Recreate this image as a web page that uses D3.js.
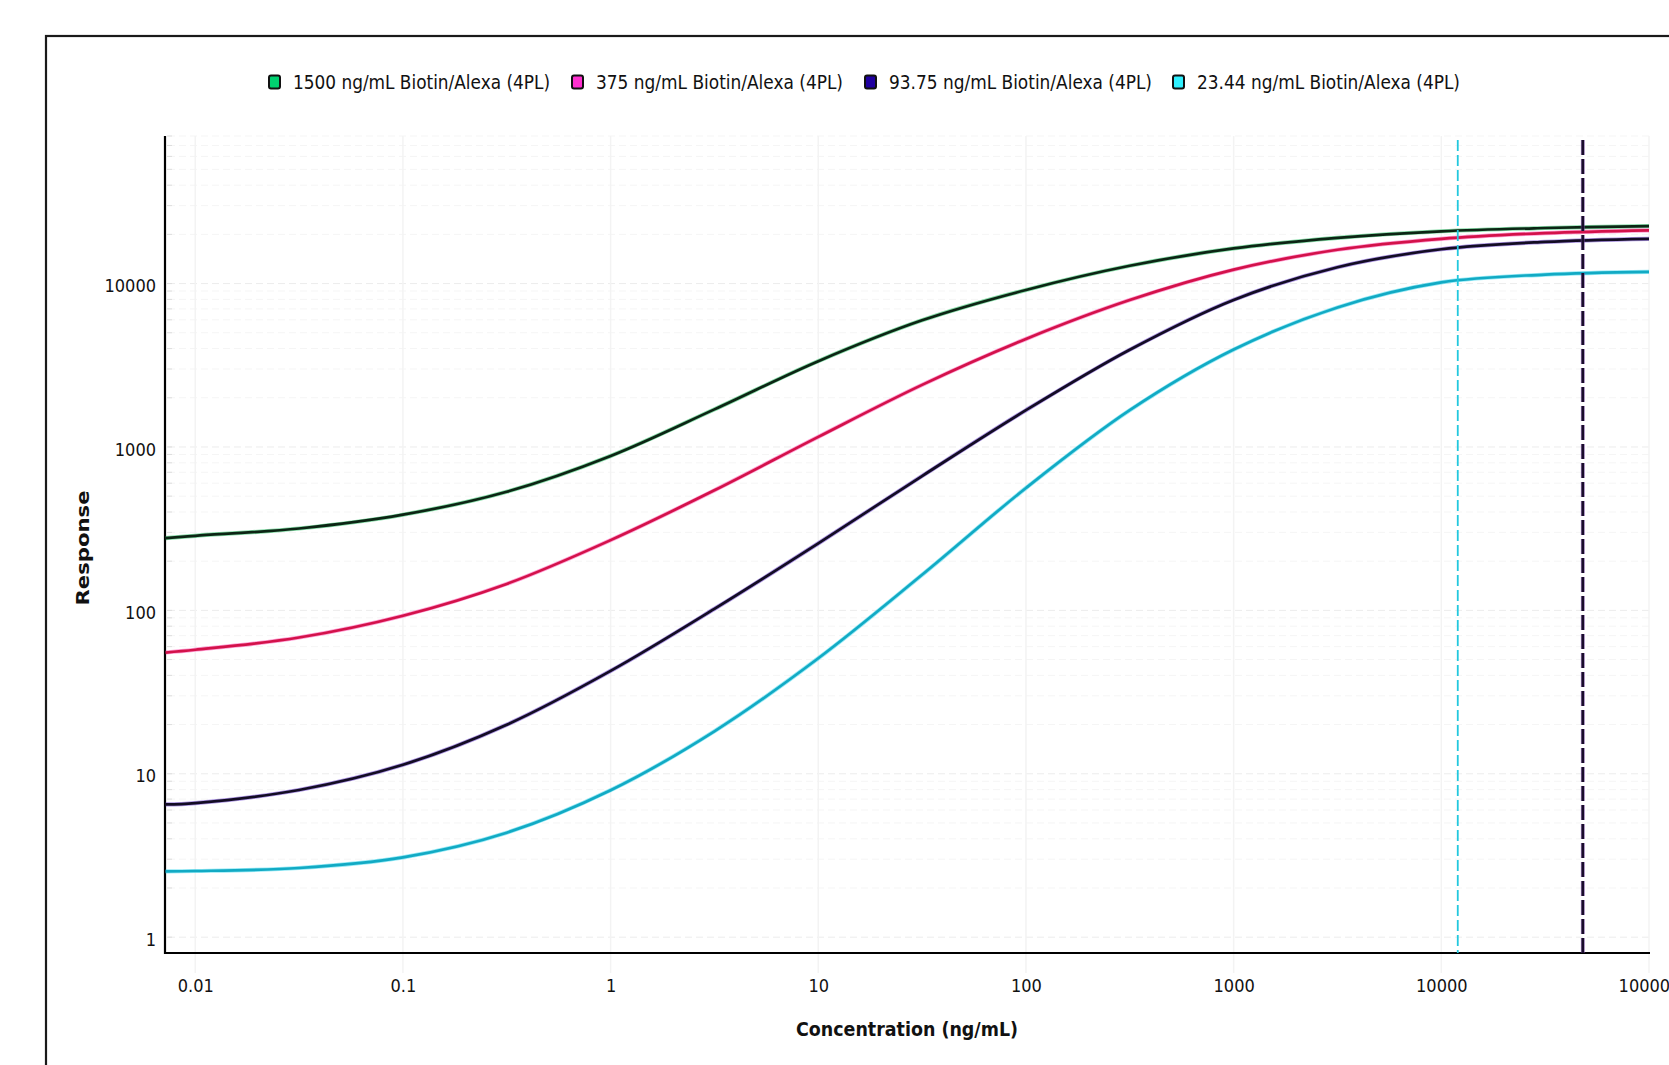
<!DOCTYPE html>
<html><head><meta charset="utf-8">
<script src="https://cdn.jsdelivr.net/npm/d3@7"></script>
<style>
body{margin:0;background:#fff;overflow:hidden}
svg{display:block}
text{font-family:"DejaVu Sans Condensed","DejaVu Sans",sans-serif;font-stretch:condensed;fill:#111}
</style>
</head><body>
<svg id="chart" width="1669" height="1065"></svg>
<script>
// ---- data ----
const seriesNames = ["1500 ng/mL Biotin/Alexa (4PL)", "375 ng/mL Biotin/Alexa (4PL)", "93.75 ng/mL Biotin/Alexa (4PL)", "23.44 ng/mL Biotin/Alexa (4PL)"];
const concentrations = [0.0072, 0.01, 0.0316, 0.1, 0.316, 1, 3.16, 10, 31.6, 100, 316, 1000, 3162, 10000, 31623, 100000];
const resp1500 = [277, 286, 317, 385, 532, 881, 1698, 3350, 5957, 9141, 12853, 16406, 19055, 20893, 21878, 22491];
const resp375  = [55.2, 57.4, 68.2, 92.7, 145.2, 269, 543, 1153, 2399, 4581, 7925, 12162, 16106, 18793, 20370, 21184];
const resp9375 = [6.49, 6.62, 7.96, 11.35, 19.95, 42.6, 102.1, 257, 664, 1679, 3936, 7943, 12589, 16218, 17989, 18793];
const resp2344 = [2.53, 2.54, 2.65, 3.08, 4.36, 7.93, 18.2, 50.9, 165, 561, 1679, 3945, 7145, 10162, 11350, 11803];
const xTickValues = [0.01, 0.1, 1, 10, 100, 1000, 10000, 100000];
const xTickLabels = ["0.01", "0.1", "1", "10", "100", "1000", "10000", "100000"];
const yTickValues = [1, 10, 100, 1000, 10000];
const yTickLabels = ["1", "10", "100", "1000", "10000"];
const limitConcs = [12000, 48000];
const limitSeriesIndex = [3, 2];

// ---- styles ----
const legendColors = ["#00d070", "#ff30d0", "#2000a0", "#30f0ff"];
const lineColors = ["#0c2514", "#d3124a", "#130c24", "#12aac4"];
const fringeColors = ["#22c060", "#ff4fb0", "#6a40d0", "#40d8ee"];

const svg = d3.select("#chart");
const pLeft = 165, pRight = 1649, pTop = 136, pBottom = 953;

const x = d3.scaleLog().domain([0.00715, 100000]).range([pLeft, pRight]);
const y = d3.scaleLog().domain([0.8, 80000]).range([pBottom, pTop]);

// outer frame
svg.append("rect").attr("x", 46).attr("y", 36).attr("width", 1700).attr("height", 1100)
  .attr("fill", "none").attr("stroke", "#1a1a1a").attr("stroke-width", 2.2);

// faint gridlines
const g = svg.append("g");
const minorY = [];
for (let e = 0; e <= 4; e++) for (let m = 1; m <= 9; m++) { const v = m * Math.pow(10, e); if (v >= 1 && v <= 80000) minorY.push(v); }
g.selectAll(".hg").data(minorY).enter().append("line")
  .attr("x1", pLeft + 3).attr("x2", pRight)
  .attr("y1", d => y(d)).attr("y2", d => y(d))
  .attr("stroke", d => (Math.abs(Math.log10(d) % 1) < 1e-9) ? "#ececec" : "#f5f5f5")
  .attr("stroke-width", 1).attr("stroke-dasharray", "7,4");
g.selectAll(".ht").data(minorY).enter().append("line")
  .attr("x1", pLeft + 2).attr("x2", pLeft + 7)
  .attr("y1", d => y(d)).attr("y2", d => y(d))
  .attr("stroke", "#dedede").attr("stroke-width", 1);
g.selectAll(".vg").data(xTickValues).enter().append("line")
  .attr("x1", d => x(d)).attr("x2", d => x(d))
  .attr("y1", pTop).attr("y2", pBottom + 20)
  .attr("stroke", "#f3f3f3").attr("stroke-width", 1.5);

// axes
const xAxis = d3.axisBottom(x).tickValues(xTickValues).tickFormat((d, i) => xTickLabels[i]).tickSize(0).tickPadding(26);
const yAxis = d3.axisLeft(y).tickValues(yTickValues).tickFormat((d, i) => yTickLabels[i]).tickSize(0).tickPadding(9);
const gx = svg.append("g").attr("transform", `translate(0,${pBottom})`).call(xAxis);
const gy = svg.append("g").attr("transform", `translate(${pLeft},0)`).call(yAxis);
[gx, gy].forEach(a => {
  a.select(".domain").remove();
  a.selectAll("text").style("font-family", "\"DejaVu Sans Condensed\",\"DejaVu Sans\",sans-serif").style("font-size", "18px").attr("fill", "#111");
});
gy.selectAll("text").attr("dy", "0.45em");
svg.append("line").attr("x1", pLeft).attr("x2", pLeft).attr("y1", pTop).attr("y2", pBottom + 1)
  .attr("stroke", "#000").attr("stroke-width", 2.2);
svg.append("line").attr("x1", pLeft - 1).attr("x2", pRight + 1).attr("y1", pBottom).attr("y2", pBottom)
  .attr("stroke", "#000").attr("stroke-width", 2.2);

// curves
const allResp = [resp1500, resp375, resp9375, resp2344];
const series = allResp.map((r, i) => ({ name: seriesNames[i], i, pts: concentrations.map((c, k) => ({ c, v: r[k] })) }));
const line = d3.line().x(d => x(d.c)).y(d => y(d.v)).curve(d3.curveCatmullRom.alpha(0.5));
const cg = svg.append("g");
series.forEach(s => {
  cg.append("path").attr("d", line(s.pts)).attr("fill", "none")
    .attr("stroke", fringeColors[s.i]).attr("stroke-width", 4.2).attr("stroke-opacity", 0.55);
  cg.append("path").attr("d", line(s.pts)).attr("fill", "none")
    .attr("stroke", lineColors[s.i]).attr("stroke-width", 2.7);
});

// limit lines
limitConcs.forEach((c, k) => {
  const si = limitSeriesIndex[k];
  const isDark = si === 2;
  if (isDark) {
    svg.append("line").attr("x1", x(c)).attr("x2", x(c)).attr("y1", pTop + 4).attr("y2", pBottom)
      .attr("stroke", "#9a60d0").attr("stroke-width", 4).attr("stroke-dasharray", "15,4").attr("stroke-opacity", 0.5);
  }
  svg.append("line").attr("x1", x(c)).attr("x2", x(c)).attr("y1", pTop + 4).attr("y2", pBottom)
    .attr("stroke", isDark ? "#1a0c2c" : "#22c8de")
    .attr("stroke-width", isDark ? 2.8 : 1.8)
    .attr("stroke-dasharray", isDark ? "15,4" : "11,4");
});

// legend
const legendSwatchX = [269, 572, 865, 1173];
const legendTextX = [293, 596, 889, 1197];
const legendTextW = [257, 247, 263, 263];
const lg = svg.append("g");
seriesNames.forEach((n, i) => {
  lg.append("rect").attr("x", legendSwatchX[i]).attr("y", 75.5).attr("width", 11).attr("height", 13).attr("rx", 2)
    .attr("fill", legendColors[i]).attr("stroke", "#111").attr("stroke-width", 2);
  lg.append("text").attr("x", legendTextX[i]).attr("y", 89).text(n)
    .style("font-size", "19px").attr("textLength", legendTextW[i]).attr("lengthAdjust", "spacingAndGlyphs");
});

// axis titles
svg.append("text").attr("x", 907).attr("y", 1036).attr("text-anchor", "middle")
  .style("font-size", "19px").style("font-weight", "bold")
  .attr("textLength", 222).attr("lengthAdjust", "spacingAndGlyphs").text("Concentration (ng/mL)");
svg.append("text").attr("transform", "translate(89,548) rotate(-90)").attr("text-anchor", "middle")
  .style("font-size", "18px").style("font-weight", "bold").style("font-family", "\"DejaVu Sans\",sans-serif")
  .attr("textLength", 115).attr("lengthAdjust", "spacingAndGlyphs").text("Response");
</script>
</body></html>
